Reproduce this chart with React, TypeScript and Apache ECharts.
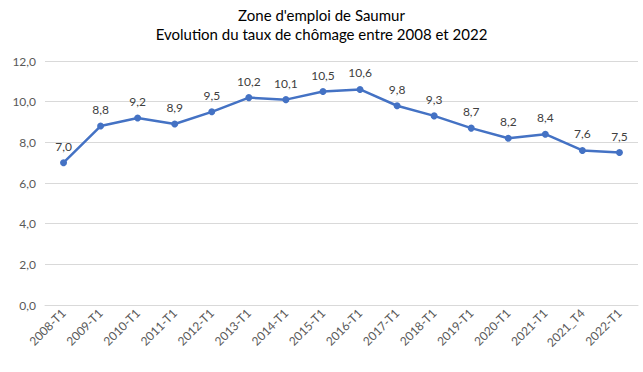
import React, { useEffect, useRef } from "react";
import * as echarts from "echarts";

const categories = [
  "2008-T1", "2009-T1", "2010-T1", "2011-T1", "2012-T1", "2013-T1", "2014-T1", "2015-T1",
  "2016-T1", "2017-T1", "2018-T1", "2019-T1", "2020-T1", "2021-T1", "2021_T4", "2022-T1",
];
const values = [7.0, 8.8, 9.2, 8.9, 9.5, 10.2, 10.1, 10.5, 10.6, 9.8, 9.3, 8.7, 8.2, 8.4, 7.6, 7.5];
const titleLines = ["Zone d'emploi de Saumur", "Evolution du taux de chômage entre 2008 et 2022"];

const fmt = (v: number) => v.toFixed(1).replace(".", ",");

export default function App() {
  const ref = useRef<HTMLDivElement>(null);
  useEffect(() => {
    const chart = echarts.init(ref.current!, null, { renderer: "svg" });
    const font = "Lato, 'Open Sans', sans-serif";
    chart.setOption({
      animation: false,
      backgroundColor: "#fff",
      title: {
        text: titleLines.join("\n"),
        left: "center",
        top: 0,
        textStyle: { fontFamily: font, fontSize: 15, fontWeight: "normal", color: "#000", lineHeight: 19 },
      },
      grid: { left: 45, right: 5, top: 61, bottom: 67 },
      xAxis: {
        type: "category",
        data: categories,
        boundaryGap: true,
        axisLine: { lineStyle: { color: "#d9d9d9" } },
        axisTick: { show: false },
        axisLabel: { rotate: 45, fontFamily: font, fontSize: 12, color: "#595959", margin: 6, interval: 0 },
      },
      yAxis: {
        type: "value",
        min: 0,
        max: 12,
        interval: 2,
        axisLabel: { formatter: (v: number) => fmt(v), fontFamily: font, fontSize: 12, color: "#595959", margin: 9 },
        splitLine: { lineStyle: { color: "#d9d9d9" } },
        axisLine: { show: false },
        axisTick: { show: false },
      },
      series: [
        {
          type: "line",
          data: values,
          symbol: "circle",
          symbolSize: 7,
          lineStyle: { color: "#4472C4", width: 2.5 },
          itemStyle: { color: "#4472C4" },
          label: {
            show: true,
            position: "top",
            distance: 7,
            formatter: (p: any) => fmt(p.value),
            fontFamily: font,
            fontSize: 12,
            color: "#404040",
          },
        },
      ],
    });
    return () => chart.dispose();
  }, []);
  return <div ref={ref} style={{ width: 643, height: 372, position: "absolute", left: 0, top: 0 }} />;
}
